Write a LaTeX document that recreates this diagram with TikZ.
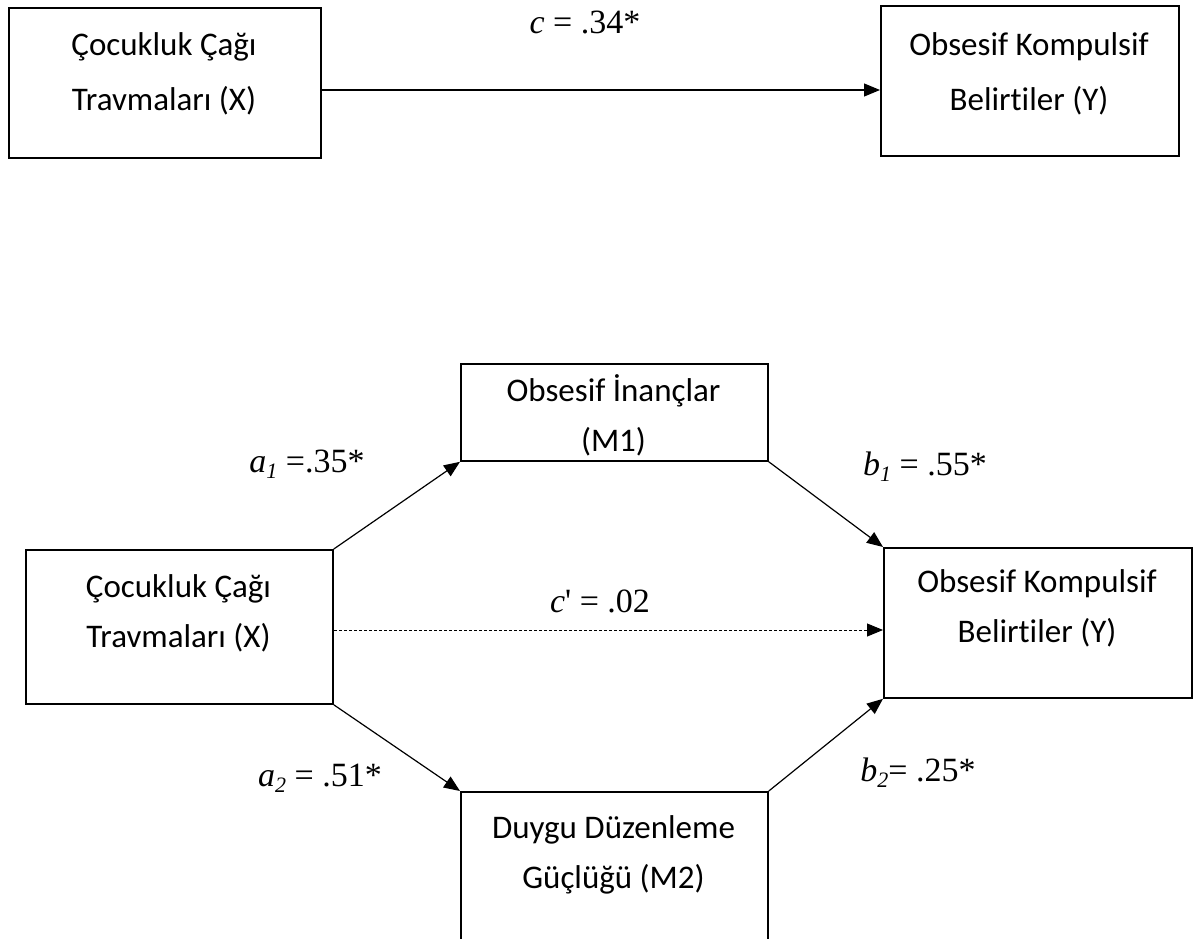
\documentclass[tikz,border=0pt]{standalone}
\usepackage{fontspec}
\setmainfont{Carlito}[Ligatures=NoCommon]
\newfontfamily\lblfont{Liberation Serif}
\usetikzlibrary{arrows.meta,calc}
\tikzset{
  box/.style={draw, line width=1.8pt, rectangle, anchor=north west, inner sep=0pt},
  boxtext/.style={align=center, font=\fontsize{33}{50}\selectfont, inner sep=0pt},
  topboxtext/.style={align=center, font=\fontsize{33}{55}\selectfont, inner sep=0pt},
  lbl/.style={font=\lblfont\fontsize{34}{36}\selectfont, inner sep=0pt},
  conn/.style={line width=1.2pt, -{Triangle[length=16pt,width=13pt]}},
  dconn/.style={line width=0.9pt, dash pattern=on 3pt off 2pt, -{Triangle[length=16pt,width=13pt]}}
}
\newcommand{\subsc}[1]{\raisebox{-0.18em}{\fontsize{22}{22}\selectfont\itshape #1}}
\begin{document}
\begin{tikzpicture}[x=1pt,y=-1pt]
\useasboundingbox (0,0) rectangle (1199,939);
\clip (0,0) rectangle (1199,939);
% top model
\node[box, minimum width=312pt, minimum height=150pt] (tX) at (8,7) {};
\node[box, minimum width=298pt, minimum height=150pt] (tY) at (880,5) {};
\node[topboxtext] (tXt) at (164,73.5) {Çocukluk Çağı\\Travmaları (X)};
\node[topboxtext] (tYt) at (1029,73.5) {Obsesif Kompulsif\\Belirtiler (Y)};
\coordinate (tl) at (0,90);
\draw[conn] (tX.east |- tl) -- (tY.west |- tl);
\node[lbl] (lc) at (585,22) {\textit{c} = .34*};
% bottom model
\node[box, minimum width=307pt, minimum height=154pt] (X) at (25,549) {};
\node[box, minimum width=307pt, minimum height=97pt] (M1) at (460,363) {};
\node[box, minimum width=308pt, minimum height=150pt] (Y) at (883,547) {};
\node[box, minimum width=307pt, minimum height=170pt] (M2) at (460,791) {};
\node[boxtext] (Xt) at (178.5,613) {Çocukluk Çağı\\Travmaları (X)};
\node[boxtext] (M1t) at (613.5,415) {Obsesif İnançlar\\(M1)};
\node[boxtext] (Yt) at (1037,608) {Obsesif Kompulsif\\Belirtiler (Y)};
\node[boxtext] (M2t) at (613.5,855) {Duygu Düzenleme\\Güçlüğü (M2)};
\draw[conn] (X.north east) -- (M1.south west);
\draw[conn] (M1.south east) -- (Y.north west);
\draw[conn] (X.south east) -- (M2.north west);
\draw[conn] (M2.north east) -- (Y.south west);
\coordinate (dl) at (0,630);
\draw[dconn] (X.east |- dl) -- (Y.west |- dl);
\node[lbl] (la1) at (307,464) {\textit{a}\subsc{1} =.35*};
\node[lbl] (lb1) at (925,467) {\textit{b}\subsc{1} = .55*};
\node[lbl] (lcp) at (600,601) {\textit{c}' = .02};
\node[lbl] (la2) at (320,778) {\textit{a}\subsc{2} = .51*};
\node[lbl] (lb2) at (918,773) {\textit{b}\subsc{2}= .25*};
\end{tikzpicture}
\end{document}
